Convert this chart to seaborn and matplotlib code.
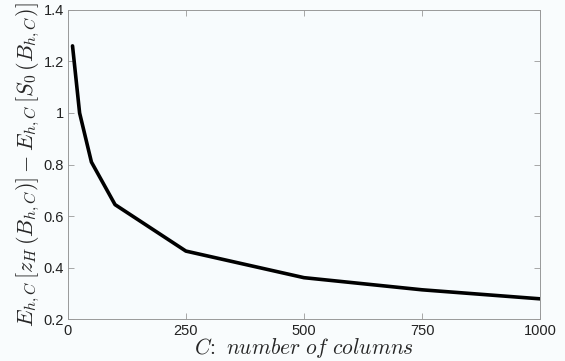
import matplotlib
matplotlib.use("Agg")
import matplotlib.pyplot as plt
import pandas as pd
import seaborn as sns

# values
columns = [10, 25, 50, 100, 250, 500, 750, 1000]
gap = [1.26, 1.0, 0.81, 0.645, 0.465, 0.362, 0.315, 0.28]
df = pd.DataFrame({"C": columns, "gap": gap})

sns.set_theme(style="ticks")
plt.rcParams["mathtext.fontset"] = "cm"
plt.rcParams["font.family"] = ["Liberation Sans", "DejaVu Sans"]

fig = plt.figure(figsize=(5.65, 3.61), dpi=100, facecolor="#f9fcfd")
ax = fig.add_axes([0.12, 0.115, 0.836, 0.858])
ax.set_facecolor("#f7fbfd")

sns.lineplot(data=df, x="C", y="gap", color="black", linewidth=2.6, ax=ax)

ax.set_xlim(0, 1000)
ax.set_ylim(0.2, 1.4)
ax.set_xticks([0, 250, 500, 750, 1000])
ax.set_yticks([0.2, 0.4, 0.6, 0.8, 1.0, 1.2, 1.4])
ax.set_yticklabels(["0.2", "0.4", "0.6", "0.8", "1", "1.2", "1.4"])
ax.tick_params(direction="in", top=True, right=True, length=4, width=0.6,
               color="#999999", labelcolor="#222222", labelsize=10.5, pad=3)
for s in ax.spines.values():
    s.set_color("#999999")
    s.set_linewidth(0.7)

ax.set_xlabel(r"$C\!:\ \mathit{number\ of\ columns}$", fontsize=15.5, labelpad=-1)
ax.set_ylabel(r"$E_{h,C}\,[z_H\,(B_{h,C})] - E_{h,C}\,[S_0\,(B_{h,C})]$",
              fontsize=16, labelpad=1)

fig.savefig("out.png", dpi=100, facecolor=fig.get_facecolor())
